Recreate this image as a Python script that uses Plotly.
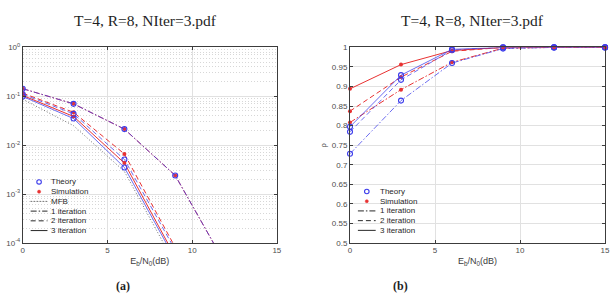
import plotly.graph_objects as go

# ---------------- data ----------------
x_ber = [0, 3, 6, 9, 12]
ber_mfb = [0.087, 0.025, 0.0029, 3.6e-5, 1e-6]
ber_th_1 = [0.143, 0.070, 0.0213, 0.0024, 3.5e-5]
ber_sim_1 = [0.143, 0.070, 0.0213, 0.0024, 3.5e-5]
ber_th_2 = [0.110, 0.0437, 0.0051, 6.0e-5, 1e-6]
ber_sim_2 = [0.116, 0.0470, 0.0066, 8.0e-5, 1e-6]
ber_th_3 = [0.099, 0.0350, 0.0035, 4.6e-5, 1e-6]
ber_sim_3 = [0.104, 0.0386, 0.0043, 5.2e-5, 1e-6]

x_rho = [0, 3, 6, 9, 12, 15]
rho_th_1 = [0.728, 0.864, 0.960, 0.997, 1.0, 1.0]
rho_sim_1 = [0.808, 0.892, 0.962, 0.998, 1.0, 1.0]
rho_th_2 = [0.784, 0.917, 0.993, 1.0, 1.0, 1.0]
rho_sim_2 = [0.837, 0.924, 0.990, 1.0, 1.0, 1.0]
rho_th_3 = [0.797, 0.929, 0.995, 1.0, 1.0, 1.0]
rho_sim_3 = [0.894, 0.956, 0.992, 1.0, 1.0, 1.0]

log_tickvals = [1, 0.1, 0.01, 0.001, 0.0001]
log_ticktext = ["10<sup>0</sup>", "10<sup>-1</sup>", "10<sup>-2</sup>", "10<sup>-3</sup>", "10<sup>-4</sup>"]
legend_left = ["Theory", "Simulation", "MFB", "1 iteration", "2 iteration", "3 iteration"]
legend_right = ["Theory", "Simulation", "1 iteration", "2 iteration", "3 iteration"]

# ---------------- styles ----------------
BLUE = "rgb(60,60,235)"
BLUE_LINE = "rgba(60,60,235,0.75)"
RED = "rgb(232,50,50)"
GRAYLINE = "rgb(110,110,110)"
DASHDOT = "6px,2px,1.5px,2px"
DASH = "5px,3px"
DOT = "1px,2px"
FONT = "Liberation Sans"

fig = go.Figure()

def add_series(x, y, color, dash, theory, xa, ya, clip=True):
    if theory:
        marker = dict(symbol="circle-open", size=5, color=color, line=dict(width=1.1, color=color))
        lcol = BLUE_LINE
    else:
        marker = dict(symbol="circle", size=4, color=color)
        lcol = color
    fig.add_trace(go.Scatter(x=x, y=y, mode="lines+markers",
                             line=dict(color=lcol, width=1, dash=dash),
                             marker=marker, xaxis=xa, yaxis=ya,
                             showlegend=False, cliponaxis=clip, hoverinfo="skip"))

# left: BER
fig.add_trace(go.Scatter(x=x_ber, y=ber_mfb, mode="lines",
                         line=dict(color=GRAYLINE, width=1, dash=DOT),
                         xaxis="x", yaxis="y", showlegend=False))
for y, c, d, th in [(ber_sim_1, RED, DASHDOT, False), (ber_th_1, BLUE, DASHDOT, True),
                    (ber_sim_2, RED, DASH, False), (ber_th_2, BLUE, DASH, True),
                    (ber_sim_3, RED, "solid", False), (ber_th_3, BLUE, "solid", True)]:
    add_series(x_ber, y, c, d, th, "x", "y")

# right: rho
for y, c, d, th in [(rho_sim_1, RED, DASHDOT, False), (rho_th_1, BLUE, DASHDOT, True),
                    (rho_sim_2, RED, DASH, False), (rho_th_2, BLUE, DASH, True),
                    (rho_sim_3, RED, "solid", False), (rho_th_3, BLUE, "solid", True)]:
    add_series(x_rho, y, c, d, th, "x2", "y2", clip=False)

W, H = 615, 297
def px(v):
    return v / W
def py(v):
    return 1 - v / H

axis_common = dict(showline=True, linecolor="rgb(60,60,60)", linewidth=1, mirror="ticks",
                   ticks="inside", ticklen=3, tickcolor="rgb(60,60,60)",
                   tickfont=dict(family=FONT, size=8, color="rgb(77,77,77)"),
                   zeroline=False, gridcolor="rgb(225,225,225)", gridwidth=1)

fig.update_layout(
    width=W, height=H, margin=dict(l=0, r=0, t=0, b=0),
    paper_bgcolor="white", plot_bgcolor="white", showlegend=False,
    xaxis=dict(domain=[px(21), px(278)], range=[0, 15], tickvals=[0, 5, 10, 15],
               anchor="y", showgrid=True,
               title=dict(text="E<sub>b</sub>/N<sub>0</sub>(dB)", standoff=3,
                          font=dict(family=FONT, size=9, color="rgb(60,60,60)")),
               **axis_common),
    yaxis=dict(domain=[py(246), py(43)], type="log", range=[-4, 0],
               tickvals=log_tickvals, ticktext=log_ticktext, anchor="x", showgrid=True,
               minor=dict(dtick="D1", showgrid=True, griddash="1px,2px",
                          gridcolor="rgb(215,215,215)", ticks=""),
               **axis_common),
    xaxis2=dict(domain=[px(352), px(610)], range=[0, 15], tickvals=[0, 5, 10, 15],
                anchor="y2", showgrid=True,
                title=dict(text="E<sub>b</sub>/N<sub>0</sub>(dB)", standoff=3,
                           font=dict(family=FONT, size=9, color="rgb(60,60,60)")),
                **axis_common),
    yaxis2=dict(domain=[py(246), py(43)], range=[0.5, 1], dtick=0.05, anchor="x2",
                showgrid=True,
                title=dict(text="ρ", standoff=4,
                           font=dict(family=FONT, size=7, color="rgb(60,60,60)")),
                **axis_common),
)

annotations = []
shapes = []
# titles
for cx in (145, 476):
    annotations.append(dict(text="T=4, R=8, NIter=3.pdf", x=px(cx), y=py(15), xref="paper", yref="paper",
                            showarrow=False, xanchor="center", yanchor="middle",
                            font=dict(family="Liberation Serif", size=15.5, color="rgb(30,30,30)")))
for lab, cx in (("<b>(a)</b>", 122), ("<b>(b)</b>", 403)):
    annotations.append(dict(text=lab, x=px(cx), y=py(291), xref="paper", yref="paper",
                            showarrow=False, xanchor="center", yanchor="middle",
                            font=dict(family="Liberation Serif", size=12, color="rgb(30,30,30)")))

def build_legend(labels, top, x0, x1, xtext):
    styles = {"MFB": DOT, "1 iteration": DASHDOT, "2 iteration": DASH, "3 iteration": "solid"}
    for i, lab in enumerate(labels):
        yy = top + 10.1 * i
        annotations.append(dict(text=lab, x=px(xtext), y=py(yy), xref="paper", yref="paper",
                                showarrow=False, xanchor="left", yanchor="middle",
                                font=dict(family=FONT, size=8, color="rgb(40,40,40)")))
        cx = (x0 + x1) / 2
        if lab == "Theory":
            shapes.append(dict(type="circle", xref="paper", yref="paper",
                               x0=px(cx - 2.3), x1=px(cx + 2.3), y0=py(yy + 2.3), y1=py(yy - 2.3),
                               line=dict(color=BLUE, width=1.1)))
        elif lab == "Simulation":
            shapes.append(dict(type="circle", xref="paper", yref="paper",
                               x0=px(cx - 1.6), x1=px(cx + 1.6), y0=py(yy + 1.6), y1=py(yy - 1.6),
                               line=dict(color=RED, width=0.5), fillcolor=RED))
        else:
            shapes.append(dict(type="line", xref="paper", yref="paper",
                               x0=px(x0), x1=px(x1), y0=py(yy), y1=py(yy),
                               line=dict(color="rgb(40,40,40)", width=1, dash=styles[lab])))

build_legend(legend_left, 182.7, 29, 46, 48)
build_legend(legend_right, 192.6, 360, 378, 380)

fig.update_layout(annotations=annotations, shapes=shapes)

fig.write_html("out.html")
